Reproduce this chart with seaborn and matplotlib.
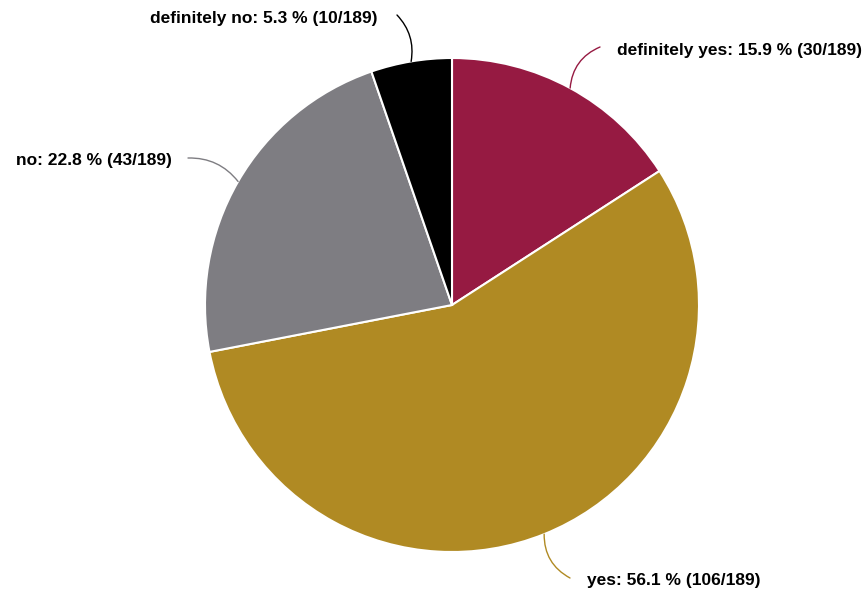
import matplotlib
matplotlib.use("Agg")
import matplotlib.pyplot as plt
import numpy as np
import seaborn as sns

labels = ["definitely yes", "yes", "no", "definitely no"]
counts = [30, 106, 43, 10]
colors = ["#961a42", "#b08a23", "#7e7d82", "#000000"]

# where the leader lines end and where the texts sit (pixels, y from top)
line_ends = [(600, 47), (570, 578), (188, 158), (397, 15)]
text_pos = [(617, 50, "left"), (587, 580, "left"), (172, 161, "right"), (378, 18, "right")]
rads = [0.3, -0.3, -0.25, -0.25]

sns.set_style("white")
plt.rcParams["font.family"] = ["Liberation Sans", "DejaVu Sans"]

W, H = 868, 597
fig = plt.figure(figsize=(W / 100, H / 100), dpi=100)
ax = fig.add_axes([0, 0, 1, 1])
ax.set_xlim(0, W)
ax.set_ylim(0, H)
ax.set_aspect("equal")
ax.axis("off")

cx, cy, r = 452, H - 305, 247
total = sum(counts)
wedges, _ = ax.pie(counts, colors=colors, startangle=90, counterclock=False,
                   center=(cx, cy), radius=r,
                   wedgeprops=dict(edgecolor="white", linewidth=1.5))
ax.set_xlim(0, W)
ax.set_ylim(0, H)

for i, w in enumerate(wedges):
    ang = np.deg2rad((w.theta1 + w.theta2) / 2)
    ex, ey = cx + r * np.cos(ang), cy + r * np.sin(ang)
    lx, ly = line_ends[i]
    ax.annotate("", xy=(ex, ey), xytext=(lx, H - ly),
                arrowprops=dict(arrowstyle="-", color=colors[i], lw=1,
                                connectionstyle="arc3,rad=%s" % rads[i],
                                shrinkA=0, shrinkB=0))
    tx, ty, ha = text_pos[i]
    txt = "%s: %.1f %% (%d/%d)" % (labels[i], 100 * counts[i] / total, counts[i], total)
    ax.text(tx, H - ty, txt, ha=ha, va="center", fontsize=12.5,
            fontweight="bold", color="black")

fig.savefig("out.png", dpi=100)
